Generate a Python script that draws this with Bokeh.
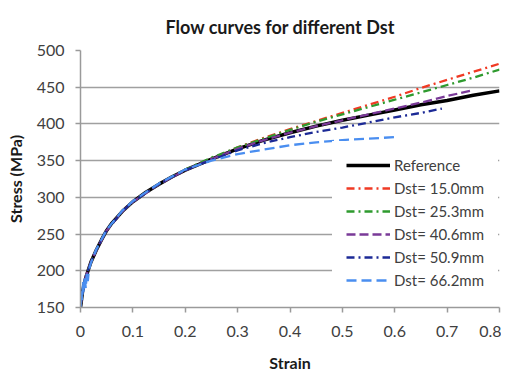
from bokeh.plotting import figure
from bokeh.models import Legend, LegendItem, FixedTicker, Title
from bokeh.embed import file_html
from bokeh.resources import INLINE

# ---- data ----
ref_strain = [0, 0.004, 0.008, 0.012, 0.02, 0.03, 0.04, 0.05, 0.06, 0.08, 0.10, 0.125, 0.15,
              0.175, 0.2, 0.25, 0.3, 0.35, 0.4, 0.45, 0.5, 0.55, 0.6, 0.65, 0.7, 0.75, 0.8]
ref_stress = [150, 172, 185, 195, 212, 228, 242, 255, 265, 281, 294, 307, 318,
              328, 337, 352, 366, 378, 388, 397, 405, 412, 419, 426, 432, 439, 445]

d15_strain = [0, 0.005, 0.01, 0.02, 0.03, 0.05, 0.08, 0.1, 0.15, 0.2, 0.25, 0.3, 0.35, 0.4,
              0.45, 0.5, 0.55, 0.6, 0.65, 0.7, 0.75, 0.8]
d15_stress = [152, 175, 192, 212, 228, 255, 281, 294, 318, 337, 353, 368, 381, 393,
              404, 415, 426, 437, 449, 460, 471, 482]

d25_strain = [0, 0.005, 0.01, 0.02, 0.03, 0.05, 0.08, 0.1, 0.15, 0.2, 0.25, 0.3, 0.35, 0.4,
              0.45, 0.5, 0.55, 0.6, 0.65, 0.7, 0.75, 0.8]
d25_stress = [152, 175, 192, 212, 228, 255, 281, 294, 318, 338, 354, 368, 380, 392,
              403, 413, 423, 433, 443, 453, 463, 474]

d40_strain = [0, 0.005, 0.01, 0.02, 0.03, 0.05, 0.08, 0.1, 0.15, 0.2, 0.25, 0.3, 0.35, 0.4,
              0.45, 0.5, 0.55, 0.6, 0.65, 0.7, 0.75]
d40_stress = [152, 175, 192, 212, 228, 255, 281, 294, 318, 337, 352, 366, 378, 388,
              397, 405, 413, 421, 429, 438, 446]

d50_strain = [0, 0.005, 0.01, 0.02, 0.03, 0.05, 0.08, 0.1, 0.15, 0.2, 0.25, 0.3, 0.35, 0.4,
              0.45, 0.5, 0.55, 0.6, 0.65, 0.69]
d50_stress = [152, 175, 192, 212, 228, 255, 281, 294, 318, 337, 351, 364, 374, 382,
              389, 395, 402, 409, 415, 421]

d66_strain = [0, 0.002, 0.003, 0.005, 0.006, 0.008, 0.010, 0.012, 0.014, 0.016, 0.02, 0.03,
              0.05, 0.08, 0.1, 0.15, 0.2, 0.25, 0.3, 0.35, 0.4, 0.45, 0.5, 0.55, 0.6]
d66_stress = [150, 172, 160, 186, 170, 193, 176, 196, 186, 201, 211, 229,
              256, 282, 295, 319, 338, 350, 359, 365, 371, 375, 378, 380, 382]

series_names = ["Reference", "Dst= 15.0mm", "Dst= 25.3mm", "Dst= 40.6mm", "Dst= 50.9mm", "Dst= 66.2mm"]

x_ticks = [0, 0.1, 0.2, 0.3, 0.4, 0.5, 0.6, 0.7, 0.8]
x_tick_labels = ["0", "0.1", "0.2", "0.3", "0.4", "0.5", "0.6", "0.7", "0.8"]
y_ticks = [150, 200, 250, 300, 350, 400, 450, 500]

FONT = "Lato"
TXT = "#404040"

p = figure(width=501, height=374, output_backend="svg", toolbar_location=None,
           x_range=(0, 0.8), y_range=(150, 500),
           min_border_left=80, min_border_right=2, min_border_top=49, min_border_bottom=67)
p.outline_line_color = None
p.background_fill_color = "white"

p.title = Title(text="Flow curves for different Dst", align="left", offset=85,
                text_font=FONT, text_font_size="18px", text_font_style="bold",
                text_color="#1a1a1a", standoff=26)

styles = [
    (ref_strain, ref_stress, "#000000", 3.5, "solid"),
    (d15_strain, d15_stress, "#f03a24", 2.3, "8 4 2 4"),
    (d25_strain, d25_stress, "#2e9a2e", 2.3, "8 4 2 4"),
    (d40_strain, d40_stress, "#7a3a98", 2.3, "9 4"),
    (d50_strain, d50_stress, "#1c2a96", 2.3, "8 4 2 4"),
    (d66_strain, d66_stress, "#4a8ef0", 2.3, "10 5"),
]
items = []
for (xs, ys, col, w, dash), name in zip(styles, series_names):
    r = p.line(xs, ys, line_color=col, line_width=w, line_dash=dash)
    items.append(LegendItem(label=name, renderers=[r]))

legend = Legend(items=items, location=(252, 3), padding=14, spacing=3,
                glyph_width=44, glyph_height=20, label_standoff=4,
                label_text_font=FONT, label_text_font_size="15px", label_text_color=TXT,
                border_line_alpha=0, background_fill_color="white", background_fill_alpha=1,
                margin=0)
p.add_layout(legend)

# axes
p.xaxis.ticker = FixedTicker(ticks=x_ticks)
p.xaxis.major_label_overrides = dict(zip(x_ticks, x_tick_labels))
p.yaxis.ticker = FixedTicker(ticks=y_ticks)
for ax in (p.xaxis[0], p.yaxis[0]):
    ax.axis_line_color = "#9a9a9a"
    ax.axis_line_width = 1.5
    ax.major_tick_line_color = "#9a9a9a"
    ax.major_tick_line_width = 1.5
    ax.major_tick_out = 5
    ax.major_tick_in = 0
    ax.minor_tick_line_color = None
    ax.major_label_text_font = FONT
    ax.major_label_text_font_size = "16px"
    ax.major_label_text_color = TXT
    ax.axis_label_text_font = FONT
    ax.axis_label_text_font_size = "16px"
    ax.axis_label_text_font_style = "bold"
    ax.axis_label_text_color = "#1a1a1a"
p.xaxis.axis_label = "Strain"
p.yaxis.axis_label = "Stress (MPa)"
p.xaxis.major_label_standoff = 13
p.xaxis.axis_label_standoff = 13
p.yaxis.major_label_standoff = 11
p.yaxis.axis_label_standoff = 9

p.xgrid.grid_line_color = None
p.ygrid.grid_line_color = "#a0a0a0"
p.ygrid.grid_line_width = 1.5

open("out.html", "w").write(file_html(p, INLINE))
